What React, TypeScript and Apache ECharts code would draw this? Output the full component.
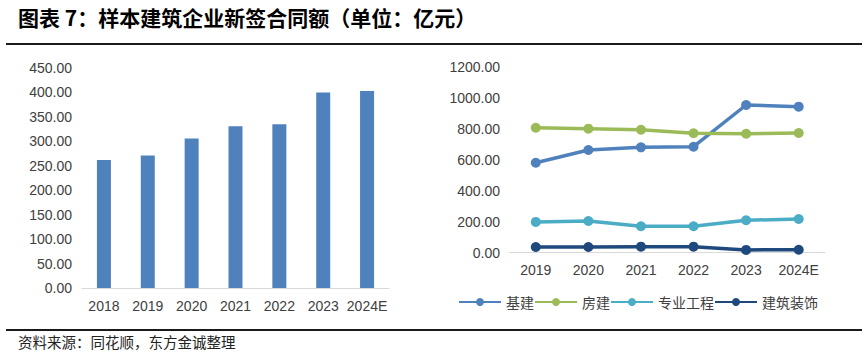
import React, { useEffect, useRef } from "react";
import * as echarts from "echarts";

const titleText = "图表 7：样本建筑企业新签合同额（单位：亿元）";
const sourceText = "资料来源：同花顺，东方金诚整理";

const barCategories = ["2018", "2019", "2020", "2021", "2022", "2023", "2024E"];
const barValues = [262, 271, 306, 331, 335, 400, 403];

const lineCategories = ["2019", "2020", "2021", "2022", "2023", "2024E"];
const jijian = [582, 665, 682, 686, 956, 945];
const fangjian = [809, 803, 796, 773, 770, 775];
const zhuanye = [199, 205, 171, 171, 210, 218];
const zhuangshi = [37, 37, 39, 39, 18, 19];

const lineNames = ["基建", "房建", "专业工程", "建筑装饰"];
const lineColors = ["#4F81BD", "#9BBB59", "#4BACC6", "#1F497D"];

const numFont = "'Liberation Sans', Arial, sans-serif";
const cjkFont = "'Noto Sans CJK SC', sans-serif";
const textColor = "#404040";

export default function App() {
  const ref = useRef<HTMLDivElement>(null);
  useEffect(() => {
    if (!ref.current) return;
    const chart = echarts.init(ref.current, undefined, { renderer: "svg" });
    const lineData = [jijian, fangjian, zhuanye, zhuangshi];
    const axisLabelCommon = {
      color: textColor,
      fontSize: 14,
      fontFamily: numFont,
    };
    chart.setOption({
      animation: false,
      backgroundColor: "#ffffff",
      grid: [
        { left: 82, top: 68, width: 307, height: 220 },
        { left: 509.5, top: 67.3, width: 315.5, height: 185.4 },
      ],
      xAxis: [
        {
          type: "category",
          gridIndex: 0,
          data: barCategories,
          axisLine: { lineStyle: { color: "#d9d9d9", width: 1 } },
          axisTick: { show: false },
          axisLabel: { ...axisLabelCommon, margin: 11, interval: 0 },
        },
        {
          type: "category",
          gridIndex: 1,
          data: lineCategories,
          axisLine: { lineStyle: { color: "#d9d9d9", width: 1 } },
          axisTick: { show: false },
          axisLabel: { ...axisLabelCommon, margin: 10, interval: 0 },
        },
      ],
      yAxis: [
        {
          type: "value",
          gridIndex: 0,
          min: 0,
          max: 450,
          interval: 50,
          axisLine: { show: false },
          axisTick: { show: false },
          splitLine: { show: false },
          axisLabel: {
            ...axisLabelCommon,
            margin: 10,
            formatter: (v: number) => v.toFixed(2),
          },
        },
        {
          type: "value",
          gridIndex: 1,
          min: 0,
          max: 1200,
          interval: 200,
          axisLine: { show: false },
          axisTick: { show: false },
          splitLine: { show: false },
          axisLabel: {
            ...axisLabelCommon,
            margin: 9.5,
            formatter: (v: number) => v.toFixed(2),
          },
        },
      ],
      legend: {
        left: 453,
        top: 290,
        itemWidth: 42,
        itemHeight: 10,
        itemGap: 0,
        data: lineNames,
        textStyle: { color: textColor, fontSize: 14, fontFamily: cjkFont },
      },
      series: [
        {
          type: "bar",
          xAxisIndex: 0,
          yAxisIndex: 0,
          data: barValues,
          barWidth: 14,
          itemStyle: { color: "#4F81BD" },
        },
        ...lineNames.map((name, i) => ({
          type: "line",
          name,
          xAxisIndex: 1,
          yAxisIndex: 1,
          data: lineData[i],
          symbol: "circle",
          symbolSize: 10,
          lineStyle: { color: lineColors[i], width: 3.5 },
          itemStyle: { color: lineColors[i] },
        })),
      ],
      graphic: [
        {
          type: "text",
          x: 18,
          y: 17,
          style: {
            text: titleText,
            fontSize: 21,
            fontWeight: "bold",
            fontFamily: cjkFont,
            fill: "#000000",
            verticalAlign: "middle",
          },
        },
        {
          type: "line",
          shape: { x1: 6, y1: 44, x2: 862, y2: 44 },
          style: { stroke: "#1a1a1a", lineWidth: 2 },
        },
        {
          type: "line",
          shape: { x1: 6, y1: 330, x2: 862, y2: 330 },
          style: { stroke: "#1a1a1a", lineWidth: 2 },
        },
        {
          type: "text",
          x: 18,
          y: 341,
          style: {
            text: sourceText,
            fontSize: 14.5,
            fontFamily: cjkFont,
            fill: "#222222",
            verticalAlign: "middle",
          },
        },
      ],
    });
    return () => chart.dispose();
  }, []);
  return (
    <div
      ref={ref}
      style={{ position: "absolute", left: 0, top: 0, width: 868, height: 353 }}
    />
  );
}
